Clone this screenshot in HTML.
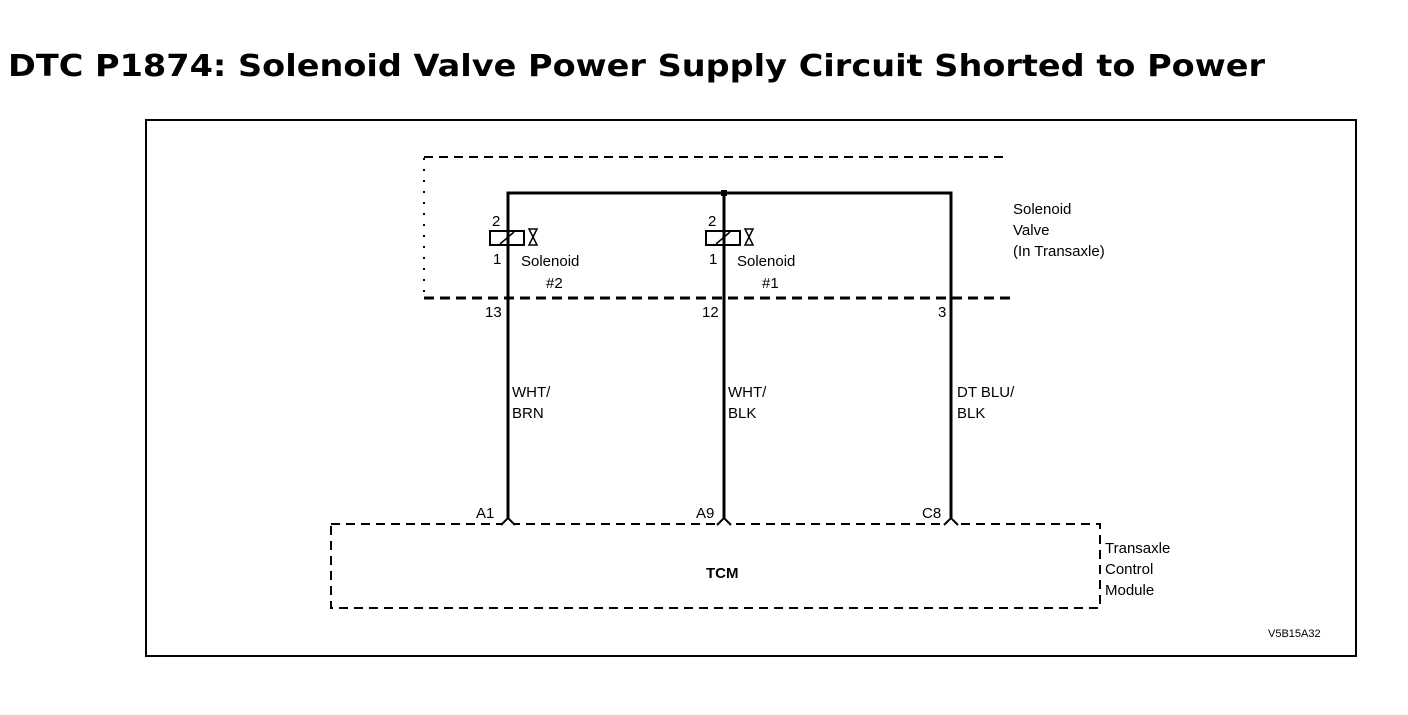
<!DOCTYPE html>
<html><head><style>
body{margin:0;background:#fff;width:1408px;height:710px;overflow:hidden}
svg text{font-family:"Liberation Sans",sans-serif;fill:#000}
svg text.t{font-family:"DejaVu Sans","Liberation Sans",sans-serif}
</style></head><body>
<svg width="1408" height="710" xmlns="http://www.w3.org/2000/svg">
<text class="t" x="8" y="76" font-size="30" font-weight="bold" textLength="1257" lengthAdjust="spacingAndGlyphs">DTC P1874: Solenoid Valve Power Supply Circuit Shorted to Power</text>
<rect x="146" y="120" width="1210" height="536" fill="none" stroke="#000" stroke-width="2"/>
<line x1="424" y1="157" x2="1005" y2="157" stroke="#000" stroke-width="2" stroke-dasharray="9,6"/>
<line x1="424" y1="158" x2="424" y2="297" stroke="#000" stroke-width="2" stroke-dasharray="2,9"/>
<line x1="424" y1="298" x2="1015" y2="298" stroke="#000" stroke-width="3" stroke-dasharray="10,6"/>
<g stroke="#000" stroke-width="3" fill="none">
<polyline points="508,520 508,193 951,193 951,520"/>
<line x1="724" y1="193" x2="724" y2="520"/>
</g>
<rect x="721" y="190" width="6" height="6" fill="#000"/>
<g stroke="#000" stroke-width="2" fill="#fff">
<rect x="490" y="231" width="34" height="14"/>
<rect x="706" y="231" width="34" height="14"/>
</g>
<g stroke="#000" stroke-width="1.5" fill="none">
<line x1="500" y1="244" x2="514" y2="232"/>
<line x1="716" y1="244" x2="730" y2="232"/>
<path d="M529,229 h8 l-8,16 h8 z"/>
<path d="M745,229 h8 l-8,16 h8 z"/>
</g>
<line x1="508" y1="231" x2="508" y2="245" stroke="#000" stroke-width="3"/>
<line x1="724" y1="231" x2="724" y2="245" stroke="#000" stroke-width="3"/>
<g font-size="15">
<text x="492" y="226">2</text><text x="493" y="264">1</text>
<text x="708" y="226">2</text><text x="709" y="264">1</text>
<text x="521" y="266">Solenoid</text><text x="546" y="288">#2</text>
<text x="737" y="266">Solenoid</text><text x="762" y="288">#1</text>
<text x="1013" y="214">Solenoid</text><text x="1013" y="235">Valve</text><text x="1013" y="256">(In Transaxle)</text>
<text x="485" y="317">13</text><text x="702" y="317">12</text><text x="938" y="317">3</text>
<text x="512" y="397">WHT/</text><text x="512" y="418">BRN</text>
<text x="728" y="397">WHT/</text><text x="728" y="418">BLK</text>
<text x="957" y="397">DT BLU/</text><text x="957" y="418">BLK</text>
<text x="476" y="518">A1</text><text x="696" y="518">A9</text><text x="922" y="518">C8</text>
<text x="1105" y="553">Transaxle</text><text x="1105" y="574">Control</text><text x="1105" y="595">Module</text>
<text x="1268" y="637" font-size="11">V5B15A32</text>
</g>
<text x="706" y="578" font-size="15" font-weight="bold">TCM</text>
<g stroke="#000" stroke-width="2" fill="none" stroke-dasharray="9,6">
<rect x="331" y="524" width="769" height="84"/>
</g>
<g stroke="#000" stroke-width="2" fill="#fff">
<path d="M501,525 l7,-7 l7,7"/><path d="M717,525 l7,-7 l7,7"/><path d="M944,525 l7,-7 l7,7"/>
</g>
</svg>
</body></html>
